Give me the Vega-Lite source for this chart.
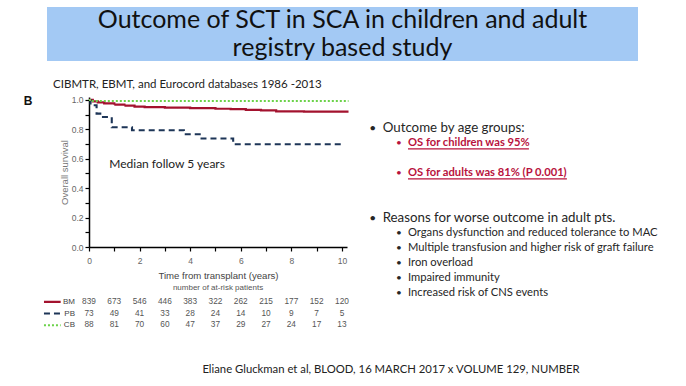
{
  "$schema": "https://vega.github.io/schema/vega-lite/v6.json",
  "autosize": {"type": "none"},
  "width": 258,
  "height": 150,
  "padding": {"left": 89, "top": 97, "right": 339, "bottom": 139},
  "background": "white",
  "config": {"view": {"stroke": null}, "font": "Lato"},
  "datasets": {
    "km": [
      {"group": "BM", "time": 0, "surv": 1.0},
      {"group": "BM", "time": 0.15, "surv": 0.99},
      {"group": "BM", "time": 0.35, "surv": 0.983},
      {"group": "BM", "time": 0.6, "surv": 0.976},
      {"group": "BM", "time": 1.0, "surv": 0.968},
      {"group": "BM", "time": 1.4, "surv": 0.962},
      {"group": "BM", "time": 1.8, "surv": 0.955},
      {"group": "BM", "time": 2.2, "surv": 0.951},
      {"group": "BM", "time": 3.0, "surv": 0.948},
      {"group": "BM", "time": 4.0, "surv": 0.944},
      {"group": "BM", "time": 5.0, "surv": 0.94},
      {"group": "BM", "time": 5.6, "surv": 0.937},
      {"group": "BM", "time": 6.2, "surv": 0.933},
      {"group": "BM", "time": 6.8, "surv": 0.929},
      {"group": "BM", "time": 7.4, "surv": 0.922},
      {"group": "BM", "time": 8.5, "surv": 0.92},
      {"group": "BM", "time": 10.26, "surv": 0.92},
      {"group": "PB", "time": 0, "surv": 1.0},
      {"group": "PB", "time": 0.06, "surv": 0.964},
      {"group": "PB", "time": 0.3, "surv": 0.907},
      {"group": "PB", "time": 0.5, "surv": 0.884},
      {"group": "PB", "time": 0.9, "surv": 0.814},
      {"group": "PB", "time": 1.7, "surv": 0.794},
      {"group": "PB", "time": 3.75, "surv": 0.767},
      {"group": "PB", "time": 4.45, "surv": 0.738},
      {"group": "PB", "time": 5.7, "surv": 0.699},
      {"group": "PB", "time": 10.1, "surv": 0.699},
      {"group": "CB", "time": 0, "surv": 1.0},
      {"group": "CB", "time": 0.08, "surv": 0.992},
      {"group": "CB", "time": 10.26, "surv": 0.992}
    ],
    "risk": [
      {"group": "BM", "time": 0, "n": 839}, {"group": "BM", "time": 1, "n": 673}, {"group": "BM", "time": 2, "n": 546}, {"group": "BM", "time": 3, "n": 446}, {"group": "BM", "time": 4, "n": 383}, {"group": "BM", "time": 5, "n": 322}, {"group": "BM", "time": 6, "n": 262}, {"group": "BM", "time": 7, "n": 215}, {"group": "BM", "time": 8, "n": 177}, {"group": "BM", "time": 9, "n": 152}, {"group": "BM", "time": 10, "n": 120},
      {"group": "PB", "time": 0, "n": 73}, {"group": "PB", "time": 1, "n": 49}, {"group": "PB", "time": 2, "n": 41}, {"group": "PB", "time": 3, "n": 33}, {"group": "PB", "time": 4, "n": 28}, {"group": "PB", "time": 5, "n": 24}, {"group": "PB", "time": 6, "n": 14}, {"group": "PB", "time": 7, "n": 10}, {"group": "PB", "time": 8, "n": 9}, {"group": "PB", "time": 9, "n": 7}, {"group": "PB", "time": 10, "n": 5},
      {"group": "CB", "time": 0, "n": 88}, {"group": "CB", "time": 1, "n": 81}, {"group": "CB", "time": 2, "n": 70}, {"group": "CB", "time": 3, "n": 60}, {"group": "CB", "time": 4, "n": 47}, {"group": "CB", "time": 5, "n": 37}, {"group": "CB", "time": 6, "n": 29}, {"group": "CB", "time": 7, "n": 27}, {"group": "CB", "time": 8, "n": 24}, {"group": "CB", "time": 9, "n": 17}, {"group": "CB", "time": 10, "n": 13}
    ],
    "bullets": [
      {"line": 0, "level": 1, "emphasis": "no", "text": "Outcome by age groups:"},
      {"line": 1, "level": 2, "emphasis": "yes", "text": "OS for children was 95%"},
      {"line": 3, "level": 2, "emphasis": "yes", "text": "OS for adults was 81% (P 0.001)"},
      {"line": 6, "level": 1, "emphasis": "no", "text": "Reasons for worse outcome in adult pts."},
      {"line": 7, "level": 2, "emphasis": "no", "text": "Organs dysfunction and reduced tolerance to MAC"},
      {"line": 8, "level": 2, "emphasis": "no", "text": "Multiple transfusion and higher risk of graft failure"},
      {"line": 9, "level": 2, "emphasis": "no", "text": "Iron overload"},
      {"line": 10, "level": 2, "emphasis": "no", "text": "Impaired immunity"},
      {"line": 11, "level": 2, "emphasis": "no", "text": "Increased risk of CNS events"}
    ]
  },
  "resolve": {"scale": {"x": "independent", "y": "independent"}},
  "layer": [
    {
      "layer": [
        {
          "data": {"name": "km"},
          "mark": {"type": "line", "interpolate": "step-after"},
          "encoding": {
            "x": {"field": "time", "type": "quantitative", "scale": {"domain": [0, 10.2], "nice": false},
              "axis": {"values": [0,1,2,3,4,5,6,7,8,9,10], "tickCount": 30, "format": "d", "labelExpr": "datum.value % 2 == 0 ? format(datum.value, 'd') : ''", "labelFlush": false, "labelOverlap": false, "grid": false, "title": "Time from transplant (years)", "domainColor": "#000000", "domainWidth": 1.5, "tickColor": "#000000", "tickWidth": 1.2, "tickSize": 4, "labelColor": "#666666", "labelFont": "Liberation Sans", "labelFontSize": 8.5, "labelPadding": 5, "titleColor": "#444444", "titleFont": "Liberation Sans", "titleFontSize": 9.6, "titleFontWeight": "normal", "titlePadding": 6}},
            "y": {"field": "surv", "type": "quantitative", "scale": {"domain": [0, 1.02], "nice": false},
              "axis": {"values": [0,0.1,0.2,0.3,0.4,0.5,0.6,0.7,0.8,0.9,1.0], "tickCount": 30, "labelExpr": "(round(datum.value * 10) % 2) == 0 ? format(datum.value, '.1f') : ''", "labelOverlap": false, "grid": false, "title": "Overall survival", "domainColor": "#000000", "domainWidth": 1.5, "tickColor": "#000000", "tickWidth": 1.2, "tickSize": 4, "labelColor": "#666666", "labelFont": "Liberation Sans", "labelFontSize": 8.5, "labelPadding": 2, "titleColor": "#777777", "titleFont": "Liberation Sans", "titleFontSize": 9.5, "titleFontWeight": "normal", "titlePadding": 2}},
            "color": {"field": "group", "type": "nominal", "scale": {"domain": ["BM", "PB", "CB"], "range": ["#a3122e", "#1d3557", "#6cd24a"]}, "legend": null},
            "strokeDash": {"field": "group", "type": "nominal", "scale": {"domain": ["BM", "PB", "CB"], "range": [[1, 0], [6, 4], [2, 2]]}, "legend": null},
            "strokeWidth": {"field": "group", "type": "ordinal", "scale": {"domain": ["BM", "PB", "CB"], "range": [2.2, 2, 1.4]}, "legend": null}
          }
        },
        {
          "data": {"values": [{"note": "Median follow 5 years"}]},
          "mark": {"type": "text", "align": "left", "baseline": "middle", "font": "Lato", "fontSize": 12, "color": "#222222"},
          "encoding": {"x": {"datum": 0.8}, "y": {"datum": 0.564}, "text": {"field": "note"}}
        },
        {
          "data": {"values": [{"source": "CIBMTR, EBMT, and Eurocord databases 1986 -2013"}]},
          "mark": {"type": "text", "align": "left", "baseline": "middle", "font": "Lato", "fontSize": 11.5, "color": "#222222"},
          "encoding": {"x": {"datum": -1.42}, "y": {"datum": 1.102}, "text": {"field": "source"}}
        },
        {
          "data": {"values": [{"panel": "B"}]},
          "mark": {"type": "text", "align": "center", "baseline": "middle", "font": "Liberation Sans", "fontWeight": "bold", "fontSize": 12, "color": "#111111"},
          "encoding": {"x": {"datum": -2.41}, "y": {"datum": 0.993}, "text": {"field": "panel"}}
        },
        {
          "data": {"values": [{"caption": "number of at-risk patients"}]},
          "mark": {"type": "text", "align": "center", "baseline": "middle", "font": "Liberation Sans", "fontSize": 8, "color": "#555555"},
          "encoding": {"x": {"datum": 5.1}, "y": {"datum": -0.279}, "text": {"field": "caption"}}
        }
      ]
    },
    {
      "data": {"name": "risk"},
      "encoding": {
        "x": {"field": "time", "type": "quantitative", "scale": {"domain": [0, 10.2], "nice": false}, "axis": null},
        "y": {"field": "group", "type": "nominal", "scale": {"type": "point", "domain": ["BM", "PB", "CB"], "range": [204.8, 228.2], "padding": 0}, "axis": null}
      },
      "layer": [
        {
          "mark": {"type": "text", "font": "Liberation Sans", "fontSize": 8.3, "color": "#555555", "baseline": "middle"},
          "encoding": {"text": {"field": "n", "type": "quantitative"}}
        },
        {
          "transform": [{"filter": "datum.time == 0"}],
          "mark": {"type": "text", "font": "Liberation Sans", "fontSize": 8, "color": "#444444", "baseline": "middle", "align": "right"},
          "encoding": {"x": {"datum": -0.554}, "text": {"field": "group"}}
        },
        {
          "transform": [{"filter": "datum.time == 0"}],
          "mark": {"type": "rule"},
          "encoding": {
            "x": {"datum": -1.78},
            "x2": {"datum": -1.12},
            "color": {"field": "group", "type": "nominal", "legend": null},
            "strokeDash": {"field": "group", "type": "nominal", "legend": null},
            "strokeWidth": {"field": "group", "type": "ordinal", "legend": null}
          }
        }
      ]
    },
    {
      "data": {"name": "bullets"},
      "encoding": {
        "x": {"field": "level", "type": "quantitative", "scale": {"domain": [1, 2], "range": [293.7, 319]}, "axis": null},
        "y": {"field": "line", "type": "quantitative", "scale": {"domain": [0, 11], "range": [30.5, 195.5]}, "axis": null},
        "text": {"field": "text"}
      },
      "layer": [
        {"transform": [{"filter": "datum.level == 1"}], "mark": {"type": "text", "align": "left", "baseline": "middle", "font": "Lato", "fontSize": 13.3, "color": "#262626"}},
        {"transform": [{"filter": "datum.level == 2 && datum.emphasis == 'no'"}], "mark": {"type": "text", "align": "left", "baseline": "middle", "font": "Lato", "fontSize": 11.2, "color": "#262626"}},
        {"transform": [{"filter": "datum.emphasis == 'yes'"}], "mark": {"type": "text", "align": "left", "baseline": "middle", "font": "Lato", "fontSize": 11.2, "fontWeight": "bold", "color": "#b8123d"}},
        {"transform": [{"filter": "datum.level == 1"}], "mark": {"type": "text", "align": "center", "baseline": "middle", "font": "Lato", "fontSize": 12, "dx": -10, "color": "#262626"}, "encoding": {"text": {"value": "•"}}},
        {"transform": [{"filter": "datum.level == 2 && datum.emphasis == 'no'"}], "mark": {"type": "text", "align": "center", "baseline": "middle", "font": "Lato", "fontSize": 10, "dx": -9, "color": "#262626"}, "encoding": {"text": {"value": "•"}}},
        {"transform": [{"filter": "datum.emphasis == 'yes'"}], "mark": {"type": "text", "align": "center", "baseline": "middle", "font": "Lato", "fontSize": 10, "dx": -9, "color": "#b8123d"}, "encoding": {"text": {"value": "•"}}},
        {"transform": [{"filter": "datum.line == 1"}], "mark": {"type": "rule", "color": "#b8123d", "strokeWidth": 1.2}, "encoding": {"x": {"datum": 2}, "x2": {"datum": 6.78}, "y": {"datum": 1.43}, "text": null}},
        {"transform": [{"filter": "datum.line == 3"}], "mark": {"type": "rule", "color": "#b8123d", "strokeWidth": 1.2}, "encoding": {"x": {"datum": 2}, "x2": {"datum": 8.28}, "y": {"datum": 3.43}, "text": null}}
      ]
    },
    {
      "data": {"values": [{"heading": ["Outcome of SCT in SCA in children and adult", "registry based study"]}]},
      "encoding": {
        "x": {"datum": 0, "type": "quantitative", "scale": {"domain": [0, 1], "range": [-42, 549]}, "axis": null},
        "y": {"datum": 0, "type": "quantitative", "scale": {"domain": [0, 1], "range": [-90, -36]}, "axis": null}
      },
      "layer": [
        {"mark": {"type": "rect", "color": "#a3c9f4"}, "encoding": {"x2": {"datum": 1}, "y2": {"datum": 1}}},
        {"mark": {"type": "text", "font": "Lato", "fontSize": 25, "lineHeight": 28, "baseline": "middle", "align": "center", "color": "#111111"}, "encoding": {"x": {"datum": 0.5}, "y": {"datum": 0.24}, "text": {"field": "heading"}}}
      ]
    },
    {
      "data": {"values": [{"ref": "Eliane Gluckman et al, BLOOD, 16 MARCH 2017 x VOLUME 129, NUMBER"}]},
      "mark": {"type": "text", "align": "center", "baseline": "middle", "font": "Lato", "fontSize": 11.3, "color": "#222222"},
      "encoding": {
        "x": {"datum": 0.5, "type": "quantitative", "scale": {"domain": [0, 1], "range": [112, 492]}, "axis": null},
        "y": {"datum": 0.5, "type": "quantitative", "scale": {"domain": [0, 1], "range": [269, 277]}, "axis": null},
        "text": {"field": "ref"}
      }
    }
  ]
}
